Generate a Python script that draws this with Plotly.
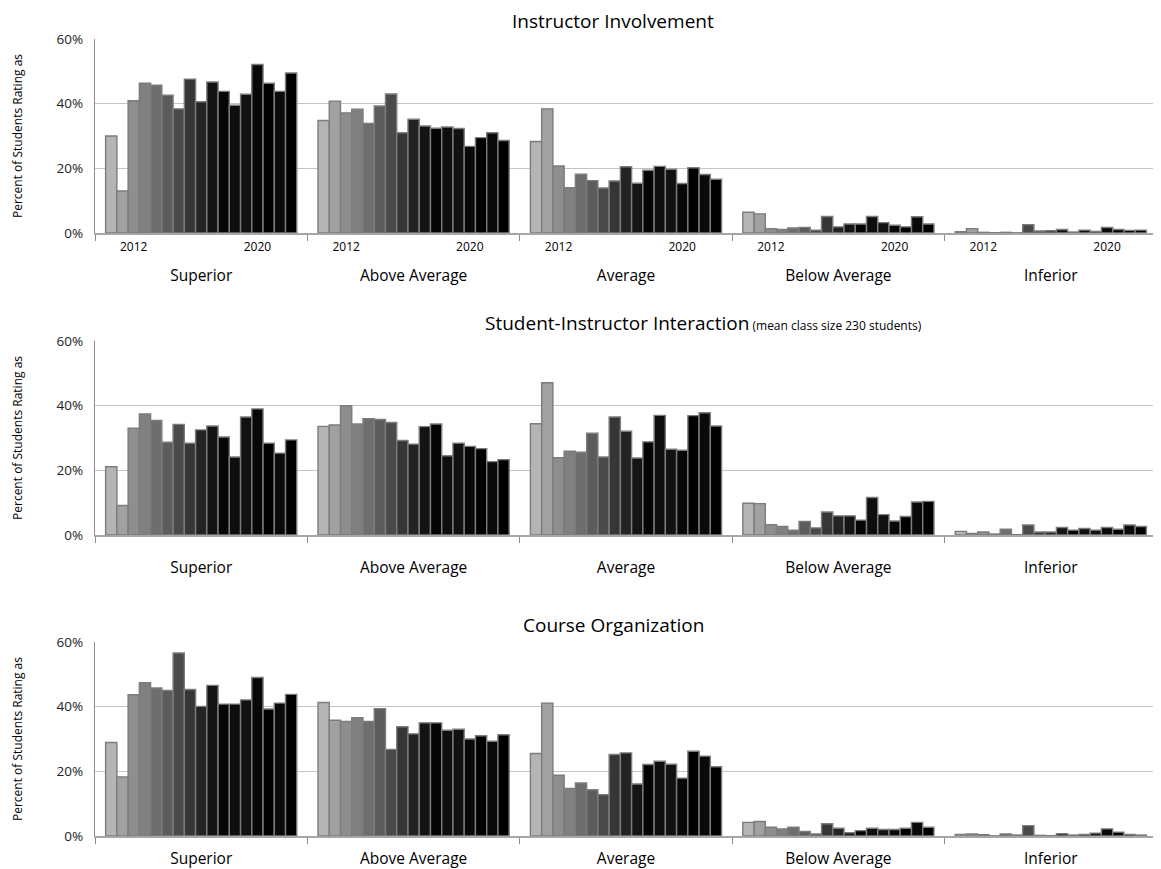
import plotly.graph_objects as go
from plotly.subplots import make_subplots

categories = ["Superior", "Above Average", "Average", "Below Average", "Inferior"]
n_years = 17
year_tick_labels = {2: "2012", 13: "2020"}

panel_titles = ["Instructor Involvement", "Student-Instructor Interaction", "Course Organization"]
panel_subtitle = " (mean class size 230 students)"

# values[panel][category] -> 17 yearly percentages
instructor_involvement = {
    "Superior": [30.0, 13.0, 40.9, 46.3, 45.7, 42.6, 38.4, 47.6, 40.6, 46.7, 43.8, 39.5, 42.9, 52.1, 46.3, 43.8, 49.5],
    "Above Average": [34.8, 40.8, 37.1, 38.3, 33.9, 39.3, 43.0, 31.0, 35.2, 33.1, 32.4, 32.8, 32.3, 26.8, 29.5, 31.0, 28.6],
    "Average": [28.3, 38.4, 20.7, 14.0, 18.2, 16.2, 13.9, 16.1, 20.5, 15.4, 19.4, 20.6, 19.7, 15.3, 20.2, 18.1, 16.6],
    "Below Average": [6.4, 5.9, 1.35, 1.1, 1.55, 1.75, 0.9, 5.1, 1.9, 2.8, 2.8, 5.1, 3.2, 2.4, 1.9, 5.0, 2.8],
    "Inferior": [0.4, 1.35, 0.2, 0.1, 0.2, 0.05, 2.6, 0.6, 0.7, 1.1, 0.3, 0.9, 0.5, 1.7, 1.1, 0.8, 0.9],
}
student_interaction = {
    "Superior": [21.1, 9.1, 33.0, 37.4, 35.4, 28.7, 34.2, 28.4, 32.5, 33.7, 30.3, 24.1, 36.5, 39.0, 28.4, 25.3, 29.4],
    "Above Average": [33.6, 34.0, 40.0, 34.3, 36.0, 35.7, 34.8, 29.2, 28.1, 33.5, 34.3, 24.5, 28.4, 27.4, 26.7, 22.7, 23.3],
    "Average": [34.4, 47.1, 23.9, 25.9, 25.6, 31.5, 24.1, 36.5, 32.1, 23.8, 28.8, 37.0, 26.5, 26.2, 36.9, 37.8, 33.7],
    "Below Average": [9.8, 9.7, 3.2, 2.6, 1.5, 4.2, 2.2, 7.1, 5.9, 5.9, 4.6, 11.6, 6.3, 4.3, 5.7, 10.2, 10.4],
    "Inferior": [1.1, 0.5, 0.9, 0.3, 1.75, 0.1, 3.1, 0.9, 0.9, 2.3, 1.5, 2.0, 1.5, 2.3, 1.75, 3.1, 2.6],
}
course_organization = {
    "Superior": [28.9, 18.3, 43.7, 47.4, 45.8, 45.0, 56.6, 45.3, 40.1, 46.6, 40.8, 40.8, 42.1, 49.0, 39.3, 41.1, 43.8],
    "Above Average": [41.3, 35.8, 35.4, 36.6, 35.4, 39.4, 26.8, 33.8, 31.6, 35.0, 35.0, 32.7, 33.0, 30.0, 31.0, 29.3, 31.3],
    "Average": [25.5, 41.1, 18.8, 14.7, 16.4, 14.3, 12.8, 25.2, 25.7, 16.1, 22.1, 23.1, 22.2, 17.9, 26.2, 24.7, 21.4],
    "Below Average": [4.2, 4.5, 2.7, 2.2, 2.7, 1.4, 0.6, 3.8, 2.4, 1.0, 1.65, 2.4, 2.0, 2.0, 2.4, 4.2, 2.7],
    "Inferior": [0.5, 0.6, 0.4, 0.05, 0.6, 0.3, 3.2, 0.2, 0.1, 0.7, 0.3, 0.5, 0.9, 2.2, 1.2, 0.5, 0.3],
}
panels = [instructor_involvement, student_interaction, course_organization]

bar_colors = ["#b5b5b5", "#a1a1a1", "#8e8e8e", "#808080", "#6e6e6e", "#5c5c5c", "#4a4a4a",
              "#363636", "#232323", "#141414", "#050505", "#0e0e0e", "#111111", "#080808",
              "#000000", "#0a0a0a", "#000000"]

FONT = "Open Sans, Segoe UI, DejaVu Sans, sans-serif"
BARGAP = 0.1

fig = make_subplots(rows=3, cols=1, vertical_spacing=0.05)

for p, data in enumerate(panels):
    for k in range(n_years):
        fig.add_trace(
            go.Bar(
                x=categories,
                y=[data[c][k] for c in categories],
                marker=dict(color=bar_colors[k], line=dict(color="#7c7c7c", width=1.4)),
                showlegend=False,
                hoverinfo="y",
            ),
            row=p + 1, col=1,
        )

fig.update_layout(
    width=1153, height=861,
    margin=dict(l=87, r=4, t=31, b=33, autoexpand=False),
    barmode="group", bargap=BARGAP, bargroupgap=0,
    plot_bgcolor="white", paper_bgcolor="white",
    font=dict(family=FONT, color="#000000"),
)

# pixel-matched domains
domains = [[0.7566, 1.0], [0.3777, 0.6211], [0.0, 0.2434]]
standoffs = [28, 18, 8]
for p in range(3):
    xa = "xaxis" if p == 0 else f"xaxis{p + 1}"
    ya = "yaxis" if p == 0 else f"yaxis{p + 1}"
    fig.layout[ya].update(
        domain=domains[p], range=[0, 60], tickvals=[0, 20, 40, 60], automargin=False,
        ticktext=["0%", "20%", "40%", "60%"], showgrid=True, gridcolor="#c4c4c4", gridwidth=1.3,
        showline=True, linecolor="#8c8c8c", linewidth=1.3, zeroline=False,
        tickfont=dict(size=13.5, color="#222222", family=FONT), ticks="", ticklabelstandoff=8,
        title=dict(text="Percent of Students Rating as", font=dict(size=12, family=FONT), standoff=31),
    )
    fig.layout[xa].update(
        type="category", range=[-0.5, 4.5], tickson="boundaries", ticks="outside", ticklen=6,
        tickcolor="#8c8c8c", tickwidth=1.3, showline=True, linecolor="#a6a6a6", linewidth=1.5,
        showgrid=False, tickfont=dict(size=15.5, color="#000000", family=FONT), automargin=False,
        ticklabelstandoff=standoffs[p],
    )

# year labels under the first panel, on an overlaid numeric axis aligned with the categories
group_w = 1 - BARGAP
year_pos, year_txt = [], []
for i in range(len(categories)):
    for k, lab in year_tick_labels.items():
        year_pos.append(i - group_w / 2 + (k + 0.5) * group_w / n_years)
        year_txt.append(lab)
fig.add_trace(go.Scatter(x=[None], y=[None], xaxis="x4", yaxis="y", showlegend=False))
fig.update_layout(
    xaxis4=dict(overlaying="x", anchor="y", side="bottom", range=[-0.5, 4.5], tickvals=year_pos,
                ticktext=year_txt, showgrid=False, showline=False, zeroline=False, ticks="",
                automargin=False,
                tickfont=dict(size=12, color="#000000", family=FONT), ticklabelstandoff=5)
)

# panel titles
PLOT_W = 1153 - 87 - 4
TITLE_X = (613 - 95) / PLOT_W
fig.add_annotation(text=panel_titles[0], xref="paper", yref="paper", x=TITLE_X, y=1.0, yshift=18,
                   yanchor="middle", showarrow=False, font=dict(size=19, family=FONT))
fig.add_annotation(text=panel_titles[1] + f"<span style='font-size:12px'>{panel_subtitle}</span>",
                   xref="paper", yref="paper", x=(483 - 95) / PLOT_W, xanchor="left", y=0.6211, yshift=18,
                   yanchor="middle", showarrow=False, font=dict(size=19, family=FONT))
fig.add_annotation(text=panel_titles[2], xref="paper", yref="paper", x=TITLE_X, y=0.2434, yshift=17,
                   yanchor="middle", showarrow=False, font=dict(size=19, family=FONT))

fig.write_html("out.html")
